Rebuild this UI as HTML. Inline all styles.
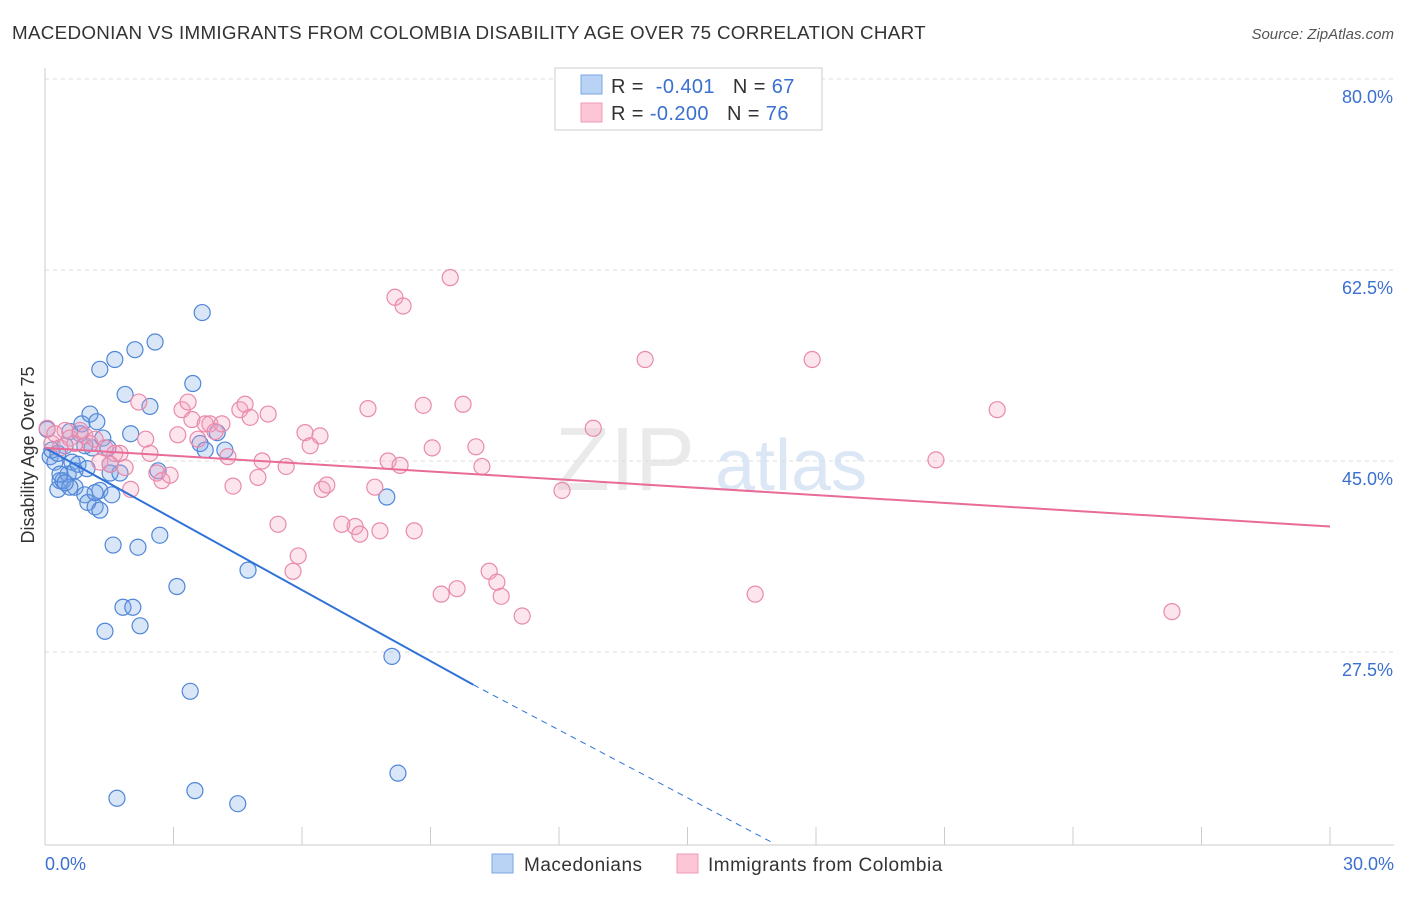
<!DOCTYPE html>
<html><head><meta charset="utf-8"><style>
body{margin:0;background:#fff;font-family:"Liberation Sans",sans-serif}
svg text{font-family:"Liberation Sans",sans-serif}
</style></head><body>
<svg id="chart" width="1406" height="892" xmlns="http://www.w3.org/2000/svg">
<text x="12" y="39" font-size="18.8" letter-spacing="0.3" fill="#333">MACEDONIAN VS IMMIGRANTS FROM COLOMBIA DISABILITY AGE OVER 75 CORRELATION CHART</text>
<text x="1394" y="39" font-size="15" fill="#555" text-anchor="end" font-style="italic">Source: ZipAtlas.com</text>
<g><text x="555" y="490" font-size="90" fill="#ddd" font-family="Liberation Serif,serif" opacity="0.6">ZIP</text><text x="715" y="490" font-size="72" fill="#c6d8f0" opacity="0.6">atlas</text></g>
<g id="grid"></g><g id="axes"></g><g id="pts"></g><g id="lines"></g>
<text transform="translate(34,455) rotate(-90)" font-size="18" fill="#333" text-anchor="middle">Disability Age Over 75</text>
<g>
<rect x="555" y="68" width="267" height="62" fill="#fff" stroke="#ccc"/>
<rect x="581" y="75" width="21" height="19" fill="#b9d3f5" stroke="#7aa7e6"/>
<rect x="581" y="103" width="21" height="19" fill="#fcc6d6" stroke="#f19bb6"/>
<text x="611" y="93" font-size="20" letter-spacing="0.4" fill="#333">R = <tspan fill="#3a70d0">&#160;-0.401</tspan><tspan dx="18">N = </tspan><tspan fill="#3a70d0">67</tspan></text>
<text x="611" y="120" font-size="20" letter-spacing="0.4" fill="#333">R = <tspan fill="#3a70d0">-0.200</tspan><tspan dx="18">N = </tspan><tspan fill="#3a70d0">76</tspan></text>
</g>
<g>
<rect x="492" y="854" width="21" height="19" fill="#b9d3f5" stroke="#7aa7e6"/>
<text x="524" y="871" font-size="19" letter-spacing="0.5" fill="#333">Macedonians</text>
<rect x="677" y="854" width="21" height="19" fill="#fcc6d6" stroke="#f19bb6"/>
<text x="708" y="871" font-size="19" letter-spacing="0.5" fill="#333">Immigrants from Colombia</text>
</g>
</svg>
<script>
const yTicks=[80,62.5,45,27.5];
const xTickLabels=["0.0%","30.0%"];
const blueX=[0.05,0.12,0.23,0.3,0.35,0.42,0.47,0.54,0.58,0.63,0.7,0.77,0.82,0.86,0.93,1.0,1.05,1.1,1.17,1.21,1.28,1.28,1.35,1.4,1.47,1.52,1.56,1.59,1.63,1.68,1.75,1.82,1.87,2.0,2.05,2.1,2.17,2.22,2.45,2.57,2.64,2.68,3.08,3.39,3.45,3.5,3.62,3.67,3.74,4.02,4.2,4.5,4.74,7.98,8.1,8.24,0.7,0.93,0.16,0.35,1.17,0.58,0.47,1.28,0.3,0.98,1.52];
const blueY=[47.9,45.4,44.9,42.4,43.2,43.2,46.4,43.8,47.7,44.9,42.6,44.7,47.5,48.4,41.9,41.2,49.3,46.2,40.8,48.6,42.3,53.4,47.1,29.4,46.2,43.9,41.9,37.3,54.3,14.1,43.9,31.6,51.1,47.5,31.6,55.2,37.1,29.9,50.0,55.9,44.1,38.2,33.5,23.9,52.1,14.8,46.6,58.6,46.0,47.6,46.0,13.6,35.0,41.7,27.1,16.4,44.1,46.4,46.0,43.8,42.1,42.6,43.0,40.5,45.7,44.3,44.7];
const pinkX=[0.05,0.16,0.23,0.35,0.47,0.58,0.7,0.82,0.93,1.05,1.17,1.28,1.4,1.52,1.63,1.75,1.87,2.0,2.19,2.35,2.45,2.61,2.73,2.92,3.1,3.2,3.34,3.43,3.57,3.74,3.85,3.97,4.13,4.27,4.39,4.55,4.67,4.79,4.97,5.07,5.21,5.44,5.63,5.91,5.79,6.07,6.19,6.42,6.47,6.58,6.93,7.24,7.35,7.54,7.7,7.82,8.01,8.17,8.29,8.36,8.62,8.83,9.04,9.25,9.46,9.62,9.76,10.06,10.2,10.37,10.55,10.65,11.14,12.07,12.8,14.01,16.58,17.91,20.8,22.23,26.31];
const pinkY=[48.0,46.6,47.5,46.2,47.8,47.1,46.6,47.8,47.3,46.6,47.0,44.9,46.2,44.7,45.7,45.7,44.4,42.4,50.4,47.0,45.7,43.9,43.2,43.7,47.4,49.7,50.4,48.8,47.0,48.4,48.4,47.7,48.4,45.4,42.7,49.7,50.2,49.0,43.5,45.0,49.3,39.2,44.5,36.3,34.9,47.6,46.4,47.3,42.4,42.8,39.2,39.0,38.3,49.8,42.6,38.6,45.0,60.0,44.6,59.2,38.6,50.1,46.2,32.8,61.8,33.3,50.2,46.3,44.5,34.9,33.9,32.6,30.8,42.3,48.0,54.3,32.8,54.3,45.1,49.7,31.2];
const blueLine=[0,46.2,10,24.5,17,10];
const pinkLine=[0,46.2,30,39.0];
const X=v=>45+v*1285/30, Y=v=>79+(80-v)*191/17.5;
const NS="http://www.w3.org/2000/svg";
function mk(p,t,a){const e=document.createElementNS(NS,t);for(const k in a)e.setAttribute(k,a[k]);document.getElementById(p).appendChild(e);return e;}
yTicks.forEach(t=>{
 const l=mk('grid','line',{x1:45,x2:1394,y1:Y(t),y2:Y(t),stroke:'#ddd','stroke-dasharray':'4,4'});
 
 
 const tx=mk('grid','text',{x:1393,y:Y(t)+24,'font-size':18,fill:'#3a70d0','text-anchor':'end'});tx.textContent=t.toFixed(1)+'%';
 
 
});
let a=mk('axes','line',{x1:45,x2:45,y1:68,y2:845,stroke:'#ccc'});


a=mk('axes','line',{x1:45,x2:1394,y1:845,y2:845,stroke:'#ccc'});


for(let i=0;i<=10;i++){const t=mk('axes','line',{x1:X(i*3),x2:X(i*3),y1:827,y2:845,stroke:'#ccc'});
 
 }
[[X(0),'start'],[X(30)+64,'end']].forEach((p,i)=>{const t=mk('axes','text',{x:p[0],y:870,'font-size':18,fill:'#3a70d0','text-anchor':p[1]});t.textContent=xTickLabels[i];
 
 });
blueX.forEach((x,i)=>{const c=mk('pts','circle',{cx:X(x),cy:Y(blueY[i]),r:8,fill:'rgba(120,165,230,0.28)',stroke:'#4f86d8','stroke-width':1.2});
 
 });
pinkX.forEach((x,i)=>{const c=mk('pts','circle',{cx:X(x),cy:Y(pinkY[i]),r:8,fill:'rgba(245,160,190,0.28)',stroke:'#e98aab','stroke-width':1.2});
 
 });
let l=mk('lines','line',{x1:X(blueLine[0]),y1:Y(blueLine[1]),x2:X(blueLine[2]),y2:Y(blueLine[3]),stroke:'#2f72d8','stroke-width':2});


l=mk('lines','line',{x1:X(blueLine[2]),y1:Y(blueLine[3]),x2:X(blueLine[4]),y2:Y(blueLine[5]),stroke:'#2f72d8','stroke-width':1,'stroke-dasharray':'6,5'});


l=mk('lines','line',{x1:X(pinkLine[0]),y1:Y(pinkLine[1]),x2:X(pinkLine[2]),y2:Y(pinkLine[3]),stroke:'#e86b98','stroke-width':2});


</script>
</body></html>
